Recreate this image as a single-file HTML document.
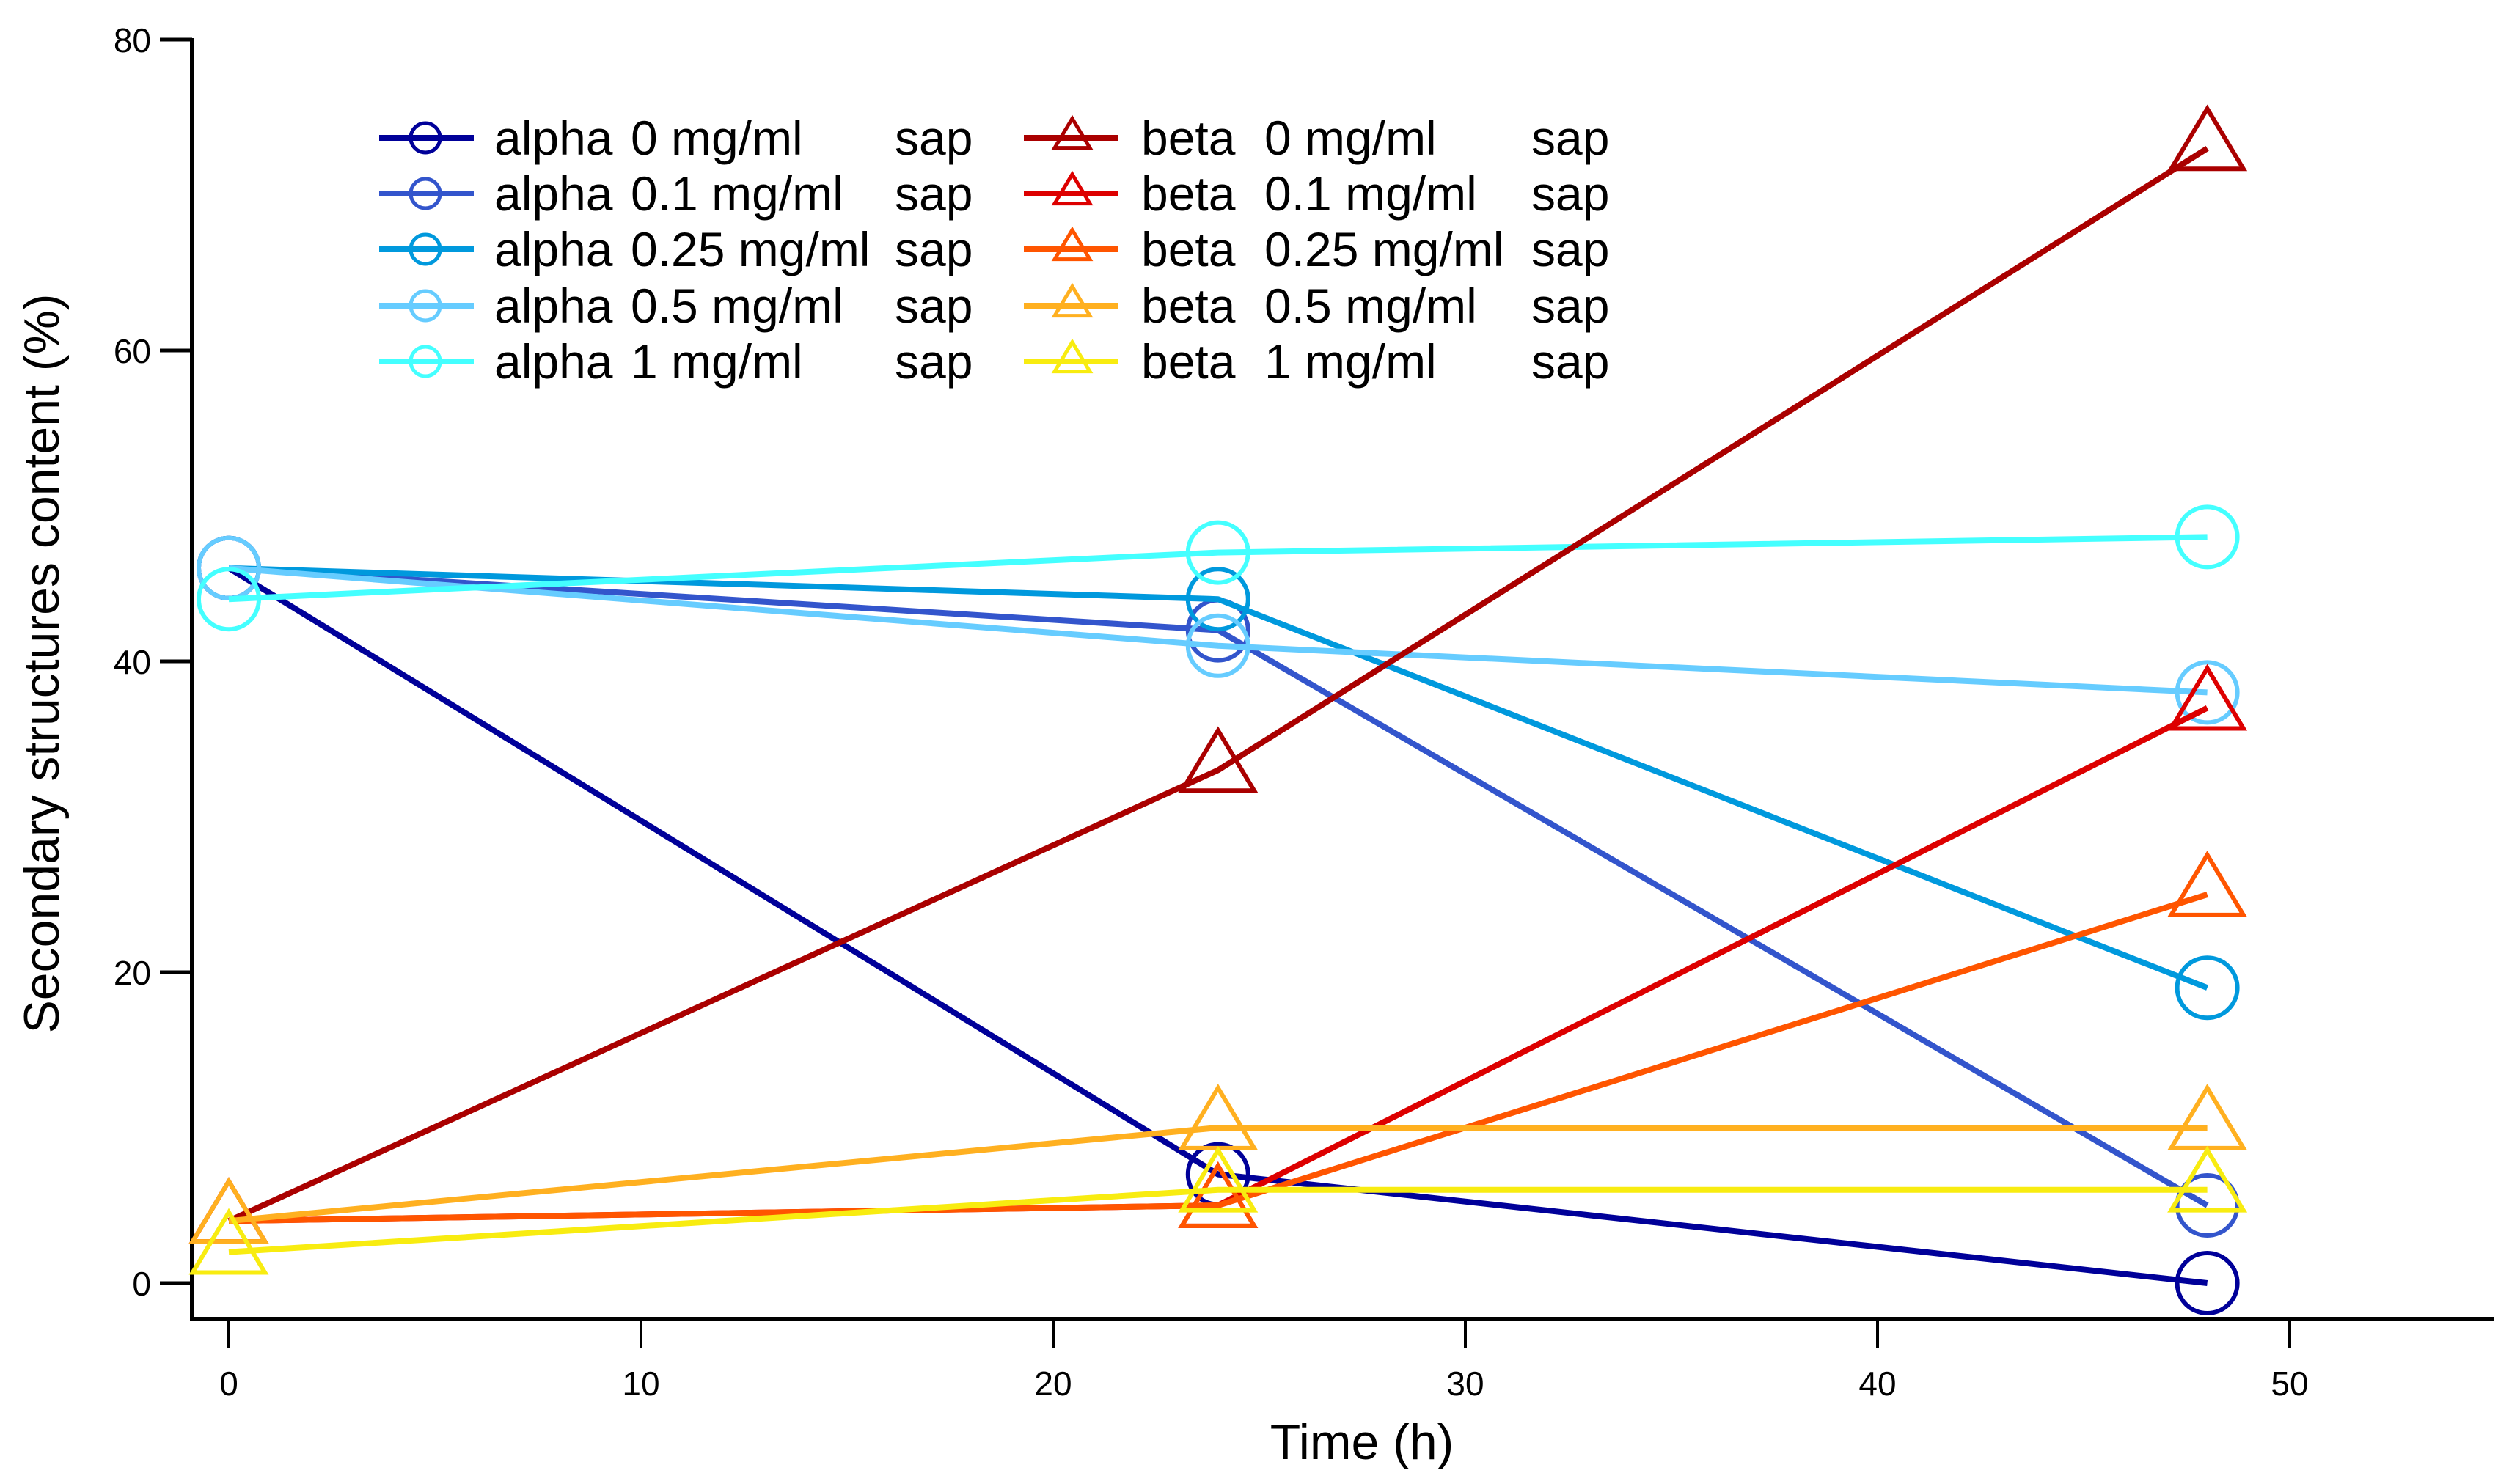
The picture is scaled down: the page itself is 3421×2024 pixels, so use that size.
<!DOCTYPE html>
<html><head><meta charset="utf-8"><style>
html,body{margin:0;padding:0;background:#fff}
svg{display:block;font-family:"Liberation Sans",sans-serif}
</style></head><body>
<svg id="chart" width="3421" height="2024" viewBox="0 0 3421 2024" xmlns="http://www.w3.org/2000/svg">
<g id="axes"></g>
<g id="series"></g>
<g id="legend"></g>
</svg>
<script>
const times = [0, 24, 48];
const seriesNames = ["alpha 0","alpha 0.1","alpha 0.25","alpha 0.5","alpha 1","beta 0","beta 0.1","beta 0.25","beta 0.5","beta 1"];
const alpha0 = [46, 7, 0];
const alpha01 = [46, 42, 5];
const alpha025 = [46, 44, 19];
const alpha05 = [46, 41, 38];
const alpha1 = [44, 47, 48];
const beta0 = [4, 33, 73];
const beta01 = [4, 5, 37];
const beta025 = [4, 5, 25];
const beta05 = [4, 10, 10];
const beta1 = [2, 6, 6];
const xTicks = [0, 10, 20, 30, 40, 50];
const yTicks = [0, 20, 40, 60, 80];

const NS = "http://www.w3.org/2000/svg";
const X0 = 312, XS = 56.2, Y0 = 1750, YS = 21.2;
function xs(v){ return X0 + v*XS; }
function ys(v){ return Y0 - v*YS; }
function mk(tag, attrs, parent){
  const e = document.createElementNS(NS, tag);
  for (const k in attrs) e.setAttribute(k, attrs[k]);
  parent.appendChild(e); return e;
}
const axes = document.getElementById('axes');
const sg = document.getElementById('series');
const lg = document.getElementById('legend');

let yl = mk('line',{x1:262,y1:52,x2:262,y2:1801,stroke:'#000','stroke-width':6},axes);


let xl = mk('line',{x1:259,y1:1799,x2:3400,y2:1799,stroke:'#000','stroke-width':6},axes);


yTicks.forEach(t=>{
  const y = ys(t);
  let l = mk('line',{x1:218,y1:y,x2:262,y2:y,stroke:'#000','stroke-width':5},axes);
  
  
  let tx = mk('text',{x:206,y:y+17,'text-anchor':'end','font-size':46},axes);
  tx.textContent = t;
  
  
});
xTicks.forEach(t=>{
  const x = xs(t);
  let l = mk('line',{x1:x,y1:1799,x2:x,y2:1838,stroke:'#000','stroke-width':4},axes);
  
  
  let tx = mk('text',{x:x,y:1903,'text-anchor':'middle','font-size':46},axes);
  tx.textContent = t;
  
  
});
let xt = mk('text',{x:1857,y:1990,'text-anchor':'middle','font-size':68},axes);
xt.textContent = 'Time (h)';


let yt = mk('text',{x:0,y:0,'text-anchor':'middle','font-size':68,transform:'translate(80,905) rotate(-90)'},axes);
yt.textContent = 'Secondary structures content (%)';



const allSeries = [alpha0,alpha01,alpha025,alpha05,alpha1,beta0,beta01,beta025,beta05,beta1];
const colors = ['#000099','#3355cc','#0099dd','#66ccff','#44ffff','#aa0000','#dd0000','#ff5500','#ffb020','#f8ec10'];
const kinds = ['c','c','c','c','c','t','t','t','t','t'];

function marker(kind, cx, cy, r, color, sw, parent){
  if (kind==='c') return mk('circle',{cx:cx,cy:cy,r:r,fill:'none',stroke:color,'stroke-width':sw},parent);
  const h = r*2, w = r*2.4;
  const pts = [[cx,cy-h*0.66],[cx+w/2,cy+h*0.34],[cx-w/2,cy+h*0.34]].map(p=>p.join(',')).join(' ');
  return mk('polygon',{points:pts,fill:'none',stroke:color,'stroke-width':sw,'stroke-linejoin':'miter'},parent);
}

allSeries.forEach((vals,i)=>{
  const g = mk('g',{},sg);
  
  
  const pts = vals.map((v,j)=>xs(times[j])+','+ys(v)).join(' ');
  let pl = mk('polyline',{points:pts,fill:'none',stroke:colors[i],'stroke-width':8,'stroke-linejoin':'round'},g);
  
  
  vals.forEach((v,j)=>{
    let m = marker(kinds[i], xs(times[j]), ys(v), 41, colors[i], 6, g);
    
    
  });
});

const legConc = ['0 mg/ml','0.1 mg/ml','0.25 mg/ml','0.5 mg/ml','1 mg/ml'];
const rowY = [188,264,340,417,493];
for (let i=0;i<10;i++){
  const col = i<5?0:1, r = i%5;
  const y = rowY[r];
  const lx = col===0?517:1396, mx = col===0?580:1462, tx0 = col===0?674:1556;
  const g = mk('g',{},lg);
  
  
  mk('line',{x1:lx,y1:y,x2:lx+129,y2:y,stroke:colors[i],'stroke-width':8},g);
  marker(kinds[i], mx, y, 20, colors[i], 5, g);
  const t1 = mk('text',{x:tx0,y:y+23,'font-size':66},g);
  t1.textContent = col===0?'alpha':'beta';
  const t2 = mk('text',{x:col===0?860:1724,y:y+23,'font-size':66},g);
  t2.textContent = legConc[r];
  const t3 = mk('text',{x:col===0?1220:2088,y:y+23,'font-size':66},g);
  t3.textContent = 'sap';
}
</script>
</body></html>
